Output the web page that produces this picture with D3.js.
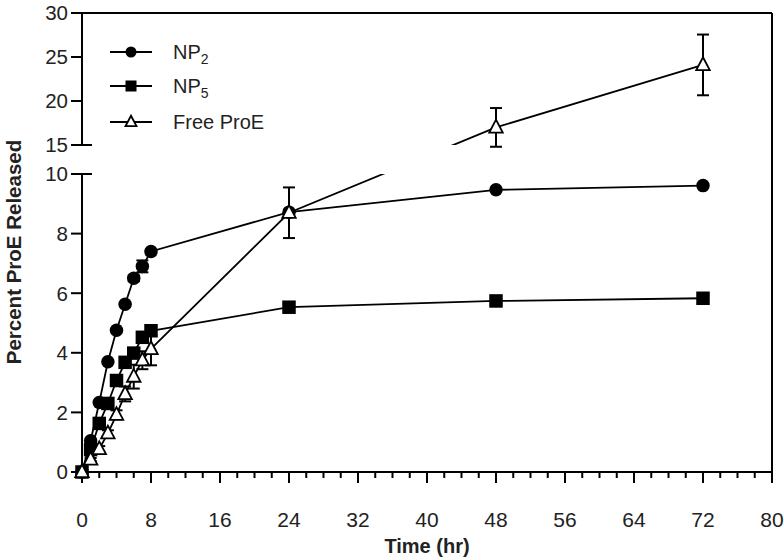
<!DOCTYPE html>
<html><head><meta charset="utf-8">
<script src="https://cdn.jsdelivr.net/npm/d3@7"></script>
<style>body{margin:0;background:#fff}svg{display:block}</style>
</head><body>
<svg id="c" width="784" height="558"></svg>
<script>
// ---- data ----
const time = [0, 1, 2, 3, 4, 5, 6, 7, 8, 24, 48, 72];
const np2 = [0, 1.05, 2.33, 3.7, 4.76, 5.63, 6.5, 6.9, 7.4, 8.72, 9.47, 9.61];
const np2Err = [0, 0, 0, 0, 0, 0, 0.1, 0.2, 0, 0, 0, 0];
const np5 = [0, 0.75, 1.63, 2.3, 3.07, 3.68, 3.99, 4.52, 4.74, 5.53, 5.74, 5.83];
const np5Err = [0, 0, 0, 0, 0, 0, 0, 0, 0, 0, 0, 0];
const freeProE = [0, 0.42, 0.77, 1.3, 1.92, 2.62, 3.2, 3.75, 4.13, 8.7, 17.0, 24.1];
const freeErr = [0, 0.05, 0.1, 0.1, 0.15, 0.25, 0.4, 0.3, 0.55, 0.85, 2.2, 3.45];
const xTicks = [0, 8, 16, 24, 32, 40, 48, 56, 64, 72, 80];
const xMinor = d3.range(0, 81, 2);
const yLowTicks = [0, 2, 4, 6, 8, 10];
const yHighTicks = [15, 20, 25, 30];
const seriesNames = ["NP", "NP", "Free ProE"];
const seriesSubs = ["2", "5", ""];

const svg = d3.select("#c");
const x = d3.scaleLinear().domain([0, 80]).range([82, 772]);
const yLow = d3.scaleLinear().domain([0, 10]).range([472, 174]);
const yHigh = d3.scaleLinear().domain([15, 30]).range([145, 13]);
const y = v => v <= 12.5 ? yLow(v) : yHigh(v);

const series = [
  {vals: np2, err: np2Err, shape: "circle"},
  {vals: np5, err: np5Err, shape: "square"},
  {vals: freeProE, err: freeErr, shape: "triangle"}
];

// clip excluding gap
const defs = svg.append("defs");
const cp = defs.append("clipPath").attr("id", "clip");
cp.append("rect").attr("x", 0).attr("y", yLow(10)).attr("width", 784).attr("height", yLow(0) - yLow(10) + 10);
cp.append("rect").attr("x", 0).attr("y", 0).attr("width", 784).attr("height", yHigh(15));

const fontAx = "'Liberation Sans', Arial, sans-serif";

// axes frame
const ax = svg.append("g").attr("stroke", "#000").attr("stroke-width", 2).attr("fill", "none");
ax.append("line").attr("x1", x(0)).attr("x2", x(0)).attr("y1", yHigh(30)).attr("y2", yHigh(15));
ax.append("line").attr("x1", x(0)).attr("x2", x(0)).attr("y1", yLow(10)).attr("y2", yLow(0));
ax.append("line").attr("x1", x(0)).attr("x2", x(80)).attr("y1", yLow(0)).attr("y2", yLow(0));
ax.append("line").attr("x1", x(0)).attr("x2", x(80)).attr("y1", yHigh(30)).attr("y2", yHigh(30));
ax.append("line").attr("x1", x(80)).attr("x2", x(80)).attr("y1", yHigh(30)).attr("y2", yLow(0));

// y ticks
const yt = svg.append("g");
const allY = yLowTicks.map(v => ({v, p: yLow(v)})).concat(yHighTicks.map(v => ({v, p: yHigh(v)})));
allY.forEach(t => {
  const ext = (t.v === 10 || t.v === 15) ? 10 : 0;
  yt.append("line").attr("x1", x(0) - 11).attr("x2", x(0) + ext).attr("y1", t.p).attr("y2", t.p)
    .attr("stroke", "#000").attr("stroke-width", 2);
  yt.append("text").attr("x", x(0) - 14).attr("y", t.p).attr("dy", "0.36em")
    .attr("text-anchor", "end").attr("font-family", fontAx).attr("font-size", 20.5).attr("fill", "#222")
    .text(t.v);
});

// x ticks
const xt = svg.append("g");
xMinor.forEach(v => {
  const major = xTicks.includes(v);
  xt.append("line").attr("x1", x(v)).attr("x2", x(v)).attr("y1", yLow(0)).attr("y2", yLow(0) + (major ? 11 : 6))
    .attr("stroke", "#000").attr("stroke-width", 2);
});
xTicks.forEach(v => {
  xt.append("text").attr("x", x(v)).attr("y", 527).attr("text-anchor", "middle")
    .attr("font-family", "'Liberation Sans Narrow', " + fontAx).attr("font-size", 21).attr("fill", "#222")
    .text(v);
});

// titles
svg.append("text").attr("x", 427).attr("y", 553).attr("text-anchor", "middle")
  .attr("font-family", fontAx).attr("font-weight", "bold").attr("font-size", 20).attr("fill", "#222")
  .text("Time (hr)");
svg.append("text").attr("transform", "translate(21,252) rotate(-90)").attr("text-anchor", "middle")
  .attr("font-family", fontAx).attr("font-weight", "bold").attr("font-size", 20.5).attr("fill", "#222")
  .text("Percent ProE Released");

// lines
const line = d3.line().x((d, i) => x(time[i])).y(d => y(d));
const plot = svg.append("g");
series.forEach(s => {
  plot.append("path").attr("d", line(s.vals)).attr("fill", "none").attr("stroke", "#000")
    .attr("stroke-width", 1.8).attr("clip-path", "url(#clip)");
});

function drawMarker(g, shape, cx, cy, size) {
  if (shape === "circle") {
    g.append("circle").attr("cx", cx).attr("cy", cy).attr("r", size / 2).attr("fill", "#000");
  } else if (shape === "square") {
    g.append("rect").attr("x", cx - size / 2).attr("y", cy - size / 2).attr("width", size).attr("height", size).attr("fill", "#000");
  } else {
    const h = size * 0.95;
    g.append("path").attr("d", `M${cx},${cy - h * 0.6}L${cx + size / 2},${cy + h * 0.4}L${cx - size / 2},${cy + h * 0.4}Z`)
      .attr("fill", "#fff").attr("stroke", "#000").attr("stroke-width", 1.8);
  }
}

series.forEach(s => {
  const g = plot.append("g");
  s.vals.forEach((v, i) => {
    const e = s.err[i];
    if (e > 0) {
      const cx = x(time[i]);
      const yt1 = y(v + e), yb = y(v - e);
      g.append("line").attr("x1", cx).attr("x2", cx).attr("y1", yt1).attr("y2", yb).attr("stroke", "#000").attr("stroke-width", 2);
      [yt1, yb].forEach(yy => g.append("line").attr("x1", cx - 6).attr("x2", cx + 6).attr("y1", yy).attr("y2", yy)
        .attr("stroke", "#000").attr("stroke-width", 2));
    }
    drawMarker(g, s.shape, x(time[i]), y(v), 13.5);
  });
});

// legend
const lg = svg.append("g");
const legY = [52, 86, 122];
series.forEach((s, i) => {
  lg.append("line").attr("x1", 110).attr("x2", 152).attr("y1", legY[i]).attr("y2", legY[i]).attr("stroke", "#000").attr("stroke-width", 1.8);
  drawMarker(lg, s.shape, 131, legY[i], 11);
  const t = lg.append("text").attr("x", 173).attr("y", legY[i] + 7).attr("font-family", fontAx).attr("font-size", 20).attr("fill", "#222");
  t.append("tspan").text(seriesNames[i]);
  if (seriesSubs[i]) t.append("tspan").attr("dy", 5).attr("font-size", 14).text(seriesSubs[i]);
});
</script>
</body></html>
